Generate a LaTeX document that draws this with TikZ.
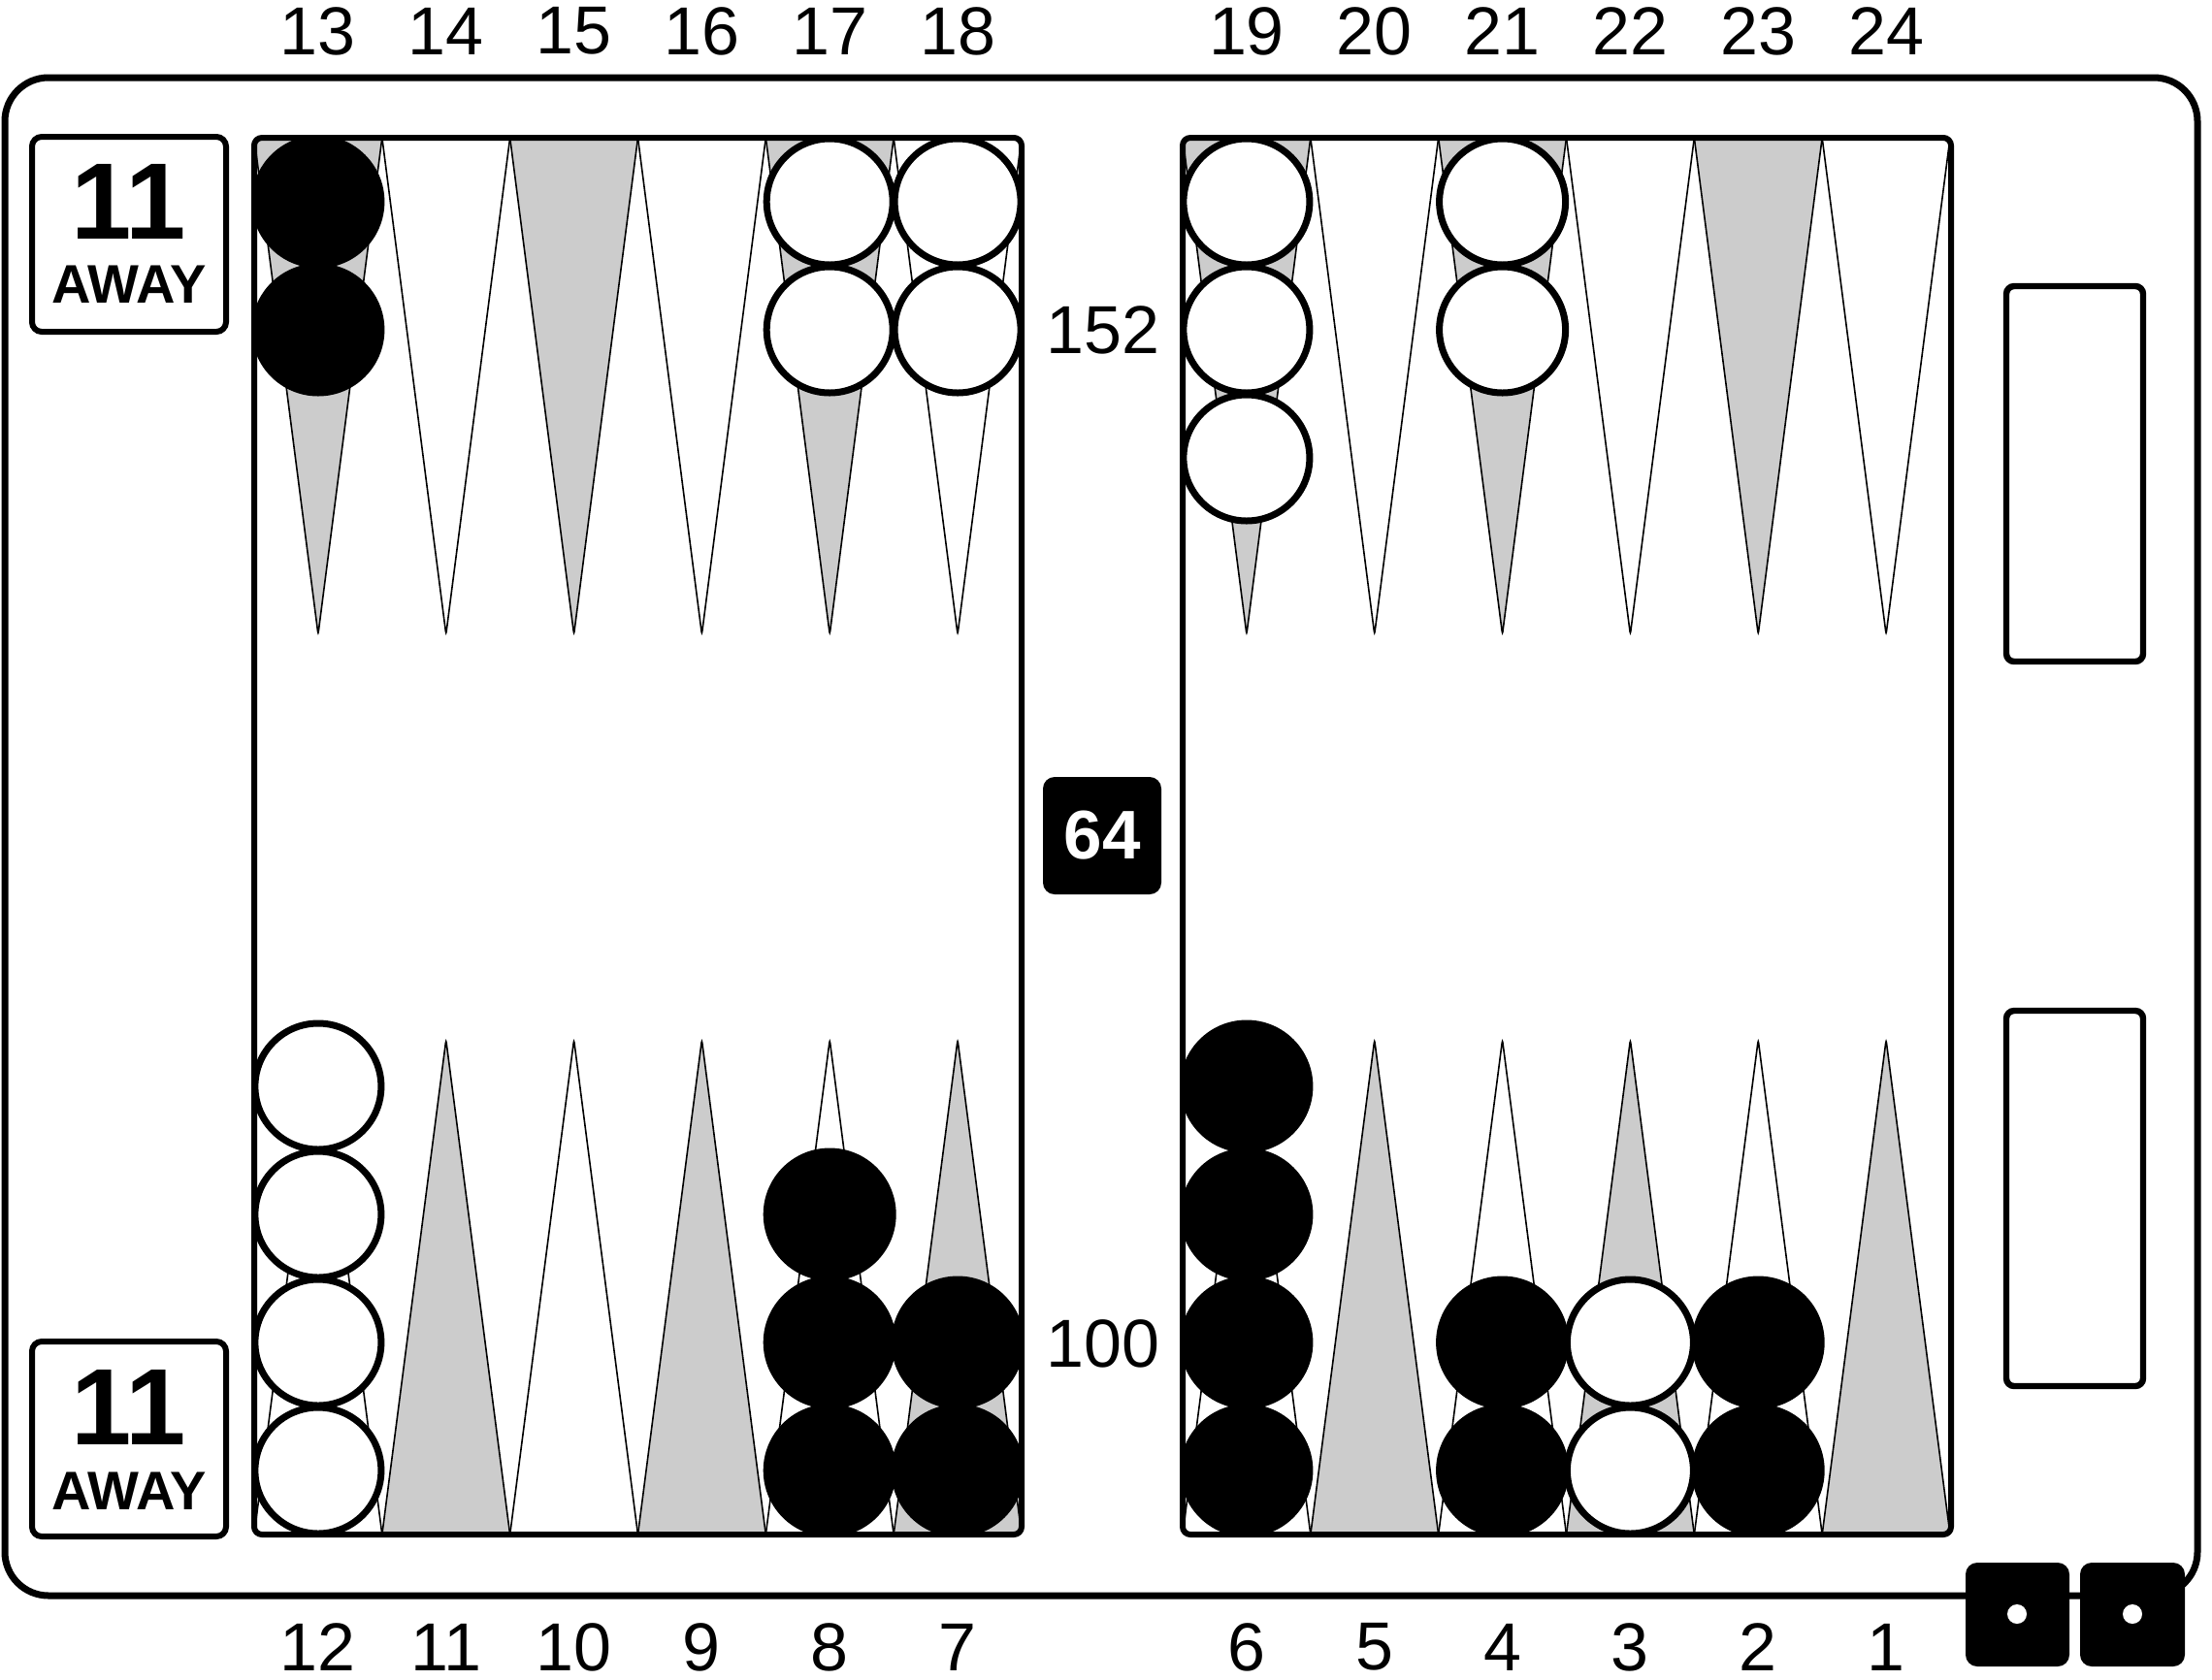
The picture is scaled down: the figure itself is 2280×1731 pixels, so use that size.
\documentclass[tikz,border=0pt]{standalone}
\usepackage{fontspec}
\setmainfont{Liberation Sans}
\definecolor{pg}{RGB}{204,204,204}
\begin{document}
\begin{tikzpicture}[x=0.5pt,y=-0.5pt,
  numlbl/.style={font=\fontsize{35}{40}\selectfont, inner sep=0pt},
  bignum/.style={font=\bfseries\fontsize{56}{60}\selectfont, inner sep=0pt},
  awaylbl/.style={font=\bfseries\fontsize{28}{32}\selectfont, inner sep=0pt},
  pointline/.style={draw=black, line width=0.8pt, rounded corners=1.5pt},
  wchk/.style={draw=black, fill=white, line width=3.5pt},
  bchk/.style={draw=black, fill=black, line width=3.5pt},
  boardline/.style={draw=black, line width=3pt, rounded corners=4pt},
  cubebox/.style={draw=black, line width=3pt, rounded corners=5pt, fill=white},
  bearoff/.style={draw=black, line width=3.2pt, rounded corners=4pt},
  diebox/.style={fill=black, rounded corners=6pt}]
\useasboundingbox (0,0) rectangle (2280,1731);
\fill[white] (0,0) rectangle (2280,1731);
% outer frame
\draw[line width=3.5pt, rounded corners=22.5pt] (5,80) rectangle (2265,1645);
% away boxes
\draw[cubebox] (33,141) rectangle (233,342);
\node[bignum] (ta) at (133,208) {11};
\node[awaylbl] (tb) at (133,293) {AWAY};
\draw[cubebox] (33,1383) rectangle (233,1584);
\node[bignum] (ba) at (133,1451) {11};
\node[awaylbl] (bb) at (133,1537) {AWAY};
% boards
\fill[white] (262,142) rectangle (1053,1582);
\fill[white] (1219,142) rectangle (2011,1582);
% points
\foreach \x in {262,1219}{
  \foreach \i/\c in {0/pg,1/white,2/pg,3/white,4/pg,5/white}{
    \draw[pointline, fill=\c] ({\x+\i*131.83},142) -- ({\x+(\i+0.5)*131.83},654) -- ({\x+(\i+1)*131.83},142) -- cycle;
  }
  \foreach \i/\c in {0/white,1/pg,2/white,3/pg,4/white,5/pg}{
    \draw[pointline, fill=\c] ({\x+\i*131.83},1582) -- ({\x+(\i+0.5)*131.83},1072) -- ({\x+(\i+1)*131.83},1582) -- cycle;
  }
}
\draw[boardline] (262,142) rectangle (1053,1582);
\draw[boardline] (1219,142) rectangle (2011,1582);
% checkers top
\foreach \y in {208,340}{\draw[bchk] (327.9,\y) circle[radius=32.5pt];}
\foreach \y in {208,340}{\draw[wchk] (855.2,\y) circle[radius=32.5pt];}
\foreach \y in {208,340}{\draw[wchk] (987.1,\y) circle[radius=32.5pt];}
\foreach \y in {208,340,472}{\draw[wchk] (1284.9,\y) circle[radius=32.5pt];}
\foreach \y in {208,340}{\draw[wchk] (1548.6,\y) circle[radius=32.5pt];}
% checkers bottom
\foreach \y in {1516,1384,1252,1120}{\draw[wchk] (327.9,\y) circle[radius=32.5pt];}
\foreach \y in {1516,1384,1252}{\draw[bchk] (855.2,\y) circle[radius=32.5pt];}
\foreach \y in {1516,1384}{\draw[bchk] (987.1,\y) circle[radius=32.5pt];}
\foreach \y in {1516,1384,1252,1120}{\draw[bchk] (1284.9,\y) circle[radius=32.5pt];}
\foreach \y in {1516,1384}{\draw[bchk] (1548.6,\y) circle[radius=32.5pt];}
\foreach \y in {1516,1384}{\draw[wchk] (1680.4,\y) circle[radius=32.5pt];}
\foreach \y in {1516,1384}{\draw[bchk] (1812.2,\y) circle[radius=32.5pt];}
% point numbers
\foreach \n/\i in {13/0,14/1,15/2,16/3,17/4,18/5}{
  \node[numlbl] (t\n) at ({262+(\i+0.5)*131.83},32) {\n};}
\foreach \n/\i in {19/0,20/1,21/2,22/3,23/4,24/5}{
  \node[numlbl] (t\n) at ({1219+(\i+0.5)*131.83},32) {\n};}
\foreach \n/\i in {12/0,11/1,10/2,9/3,8/4,7/5}{
  \node[numlbl] (b\n) at ({262+(\i+0.5)*131.83},1698) {\n};}
\foreach \n/\i in {6/0,5/1,4/2,3/3,2/4,1/5}{
  \node[numlbl] (b\n) at ({1219+(\i+0.5)*131.83},1698) {\n};}
% pip counts
\node[numlbl] (pipt) at (1137,340) {152};
\node[numlbl] (pipb) at (1137,1385) {100};
% doubling cube
\fill[black, rounded corners=6pt] (1075,801) rectangle (1197,922);
\node[font=\bfseries\fontsize{35.5}{40}\selectfont, text=white, inner sep=0pt] (cube) at (1136,861) {64};
% bear-off trays
\draw[bearoff] (2068,295) rectangle (2209,682);
\draw[bearoff] (2068,1042) rectangle (2209,1429);
% dice
\fill[diebox] (2026,1611) rectangle (2133,1718);
\fill[diebox] (2144,1611) rectangle (2252,1718);
\fill[white] (2079,1664) circle[radius=5pt];
\fill[white] (2198,1664) circle[radius=5pt];
\end{tikzpicture}
\end{document}
